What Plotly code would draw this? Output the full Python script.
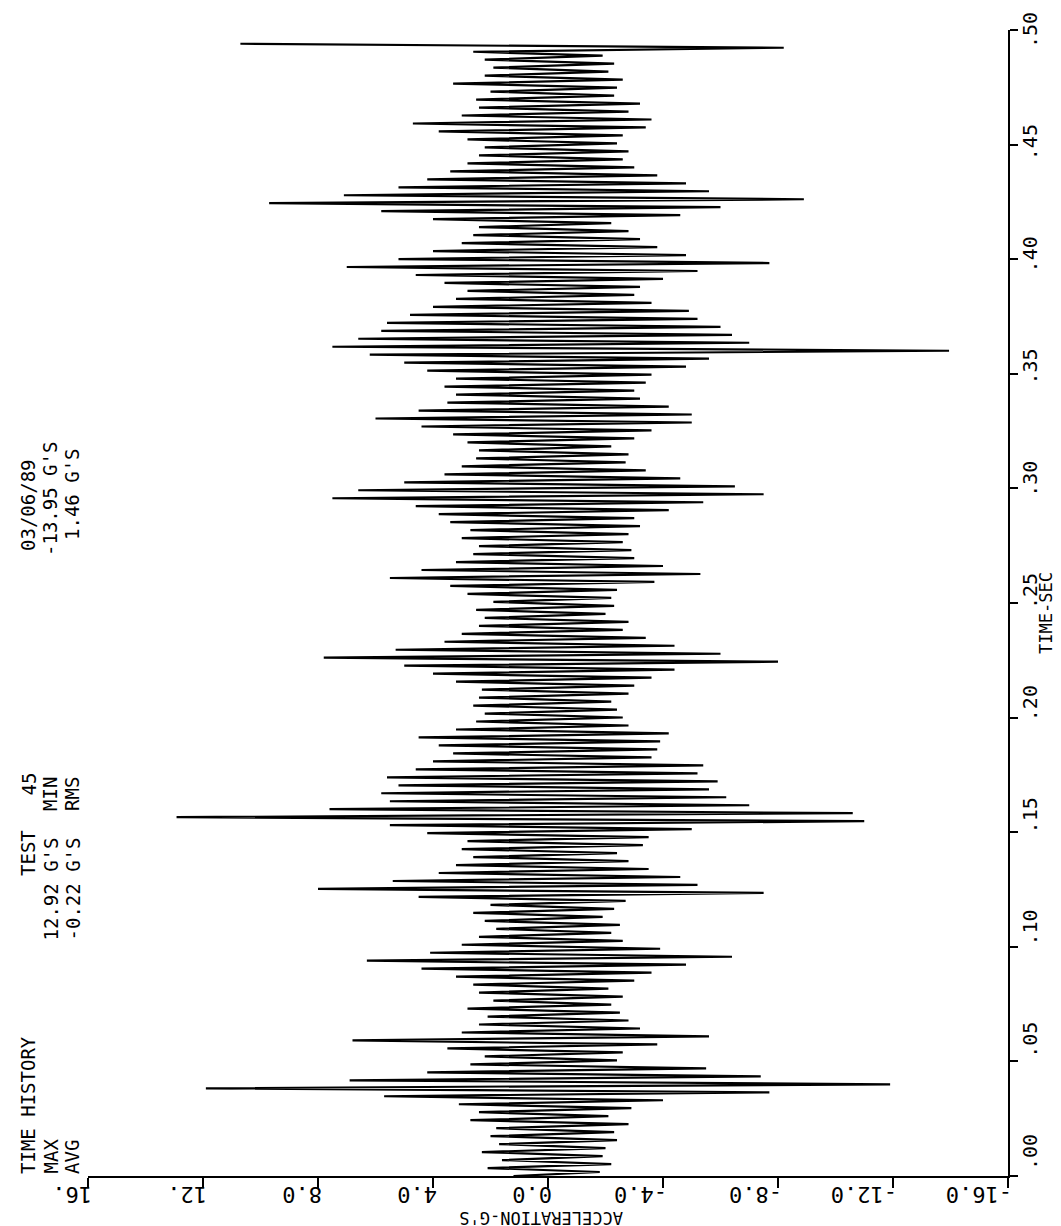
import numpy as np
import plotly.graph_objects as go

# ---------------- data ----------------
acceleration_g = [
    1.2, -1.8, 2.1, -2.2, 1.6, -1.9, 2.3, -2.0, 1.7, -2.4,
    2.0, -2.3, 1.8, -2.8, 2.7, -2.1, 2.4, -2.9, 3.1, -4.0,
    5.7, -7.7, 11.9, -11.9, 6.9, -7.4, 4.2, -5.5, 2.7, -2.4,
    2.2, -2.6, 3.5, -3.8, 6.8, -5.6, 3.0, -3.2, 2.4, -2.8,
    2.1, -2.5, 2.8, -2.2, 1.9, -2.6, 2.4, -2.1, 2.6, -3.0,
    3.2, -3.6, 4.4, -4.8, 6.3, -6.4, 4.1, -3.9, 3.0, -2.6,
    2.4, -2.2, 1.8, -2.5, 2.2, -1.9, 2.6, -2.3, 2.0, -2.7,
    4.5, -7.5, 8.0, -5.2, 5.4, -4.6, 3.8, -3.5, 3.2, -2.8,
    2.6, -2.4, 3.0, -3.3, 2.8, -3.5, 4.2, -5.0, 5.5, -11.0,
    12.92, -10.6, 7.6, -7.0, 5.5, -6.2, 5.8, -5.6, 5.2, -5.9,
    5.6, -5.2, 4.6, -5.4, 4.0, -3.6, 3.3, -3.8, 3.8, -3.9,
    4.5, -4.2, 3.2, -2.8, 2.5, -2.6, 2.2, -2.4, 2.6, -2.2,
    2.4, -2.8, 2.3, -3.0, 3.2, -3.6, 4.0, -4.4, 5.0, -8.0,
    7.8, -6.0, 5.3, -4.4, 3.6, -3.4, 3.0, -2.6, 2.4, -2.8,
    2.2, -2.0, 2.5, -2.3, 1.9, -2.2, 2.8, -2.4, 3.4, -3.7,
    5.5, -5.3, 4.4, -4.0, 3.2, -3.0, 2.6, -2.9, 2.4, -2.6,
    3.0, -2.8, 2.7, -3.2, 3.4, -3.0, 3.8, -4.2, 4.6, -5.4,
    7.5, -7.5, 6.6, -6.5, 5.0, -4.6, 3.6, -3.4, 3.0, -2.7,
    2.5, -2.8, 2.4, -2.2, 2.8, -3.0, 3.3, -3.6, 4.4, -5.0,
    6.0, -5.0, 4.5, -4.2, 3.5, -3.2, 3.2, -3.0, 3.6, -3.4,
    3.2, -3.6, 4.2, -4.8, 5.0, -5.6, 6.2, -13.95, 7.5, -7.0,
    6.6, -6.4, 5.8, -6.0, 5.6, -5.2, 4.8, -4.9, 4.0, -3.6,
    3.2, -3.0, 2.8, -3.2, 3.6, -4.0, 4.6, -5.2, 7.0, -7.7,
    5.2, -4.8, 4.0, -3.8, 3.0, -3.2, 2.6, -2.8, 2.4, -2.2,
    4.0, -4.6, 5.8, -6.0, 9.7, -8.9, 7.1, -5.6, 5.2, -4.8,
    4.2, -3.8, 3.4, -3.0, 2.8, -2.6, 2.4, -2.8, 2.2, -2.4,
    2.8, -2.6, 3.8, -3.4, 4.7, -3.6, 3.0, -2.8, 2.4, -3.2,
    2.5, -2.3, 2.0, -2.4, 3.3, -2.6, 2.2, -2.1, 1.9, -2.3,
    2.2, -1.9, 2.6, -8.2, 10.7,
]
record_start_sec = 0.0
record_end_sec = 0.494

accel_ticks = [16, 12, 8, 4, 0, -4, -8, -12, -16]
accel_tick_labels = ["16.", "12.", "8.0", "4.0", "0.0", "-4.0", "-8.0", "-12.0", "-16.0"]
time_ticks = [0.00, 0.05, 0.10, 0.15, 0.20, 0.25, 0.30, 0.35, 0.40, 0.45, 0.50]
time_tick_labels = [".00", ".05", ".10", ".15", ".20", ".25", ".30", ".35", ".40", ".45", ".50"]

header_line1 = ["TIME HISTORY", "TEST", "45", "03/06/89"]
header_line2 = ["MAX", "12.92 G'S", "MIN", "-13.95 G'S"]
header_line3 = ["AVG", "-0.22 G'S", "RMS", "1.46 G'S"]

# ---------------- figure ----------------
W, H = 1061, 1226
ML, MR, MT, MB = 80, 61, 22, 58
PW, PH = W - ML - MR, H - MT - MB
AX_BOTTOM = H - MB  # pixel row of the acceleration axis


def px_x(x):
    return (x - ML) / PW


def px_y(y):
    return (AX_BOTTOM - y) / PH


time_sec = np.linspace(record_start_sec, record_end_sec, len(acceleration_g))

fig = go.Figure(
    go.Scatter(
        x=acceleration_g,
        y=time_sec,
        mode="lines",
        line=dict(color="black", width=2.2),
        hoverinfo="skip",
    )
)

MONO = "DejaVu Sans Mono"
annotations = []

# acceleration tick labels (upside down)
for v, lab in zip(accel_ticks, accel_tick_labels):
    annotations.append(dict(
        x=v, xref="x", y=px_y(1187), yref="paper", text=lab, showarrow=False,
        textangle=180, xanchor="right", yanchor="middle", xshift=6,
        font=dict(family=MONO, size=22, color="black"),
    ))

# acceleration axis title (upside down)
annotations.append(dict(
    x=px_x(533), xref="paper", y=px_y(1210), yref="paper", text="ACCELERATION-G'S",
    showarrow=False, textangle=180, xanchor="center", yanchor="middle",
    font=dict(family=MONO, size=17, color="black"),
))

# time tick labels (reading bottom to top)
for v, lab in zip(time_ticks, time_tick_labels):
    annotations.append(dict(
        x=1.0, xref="paper", y=v, yref="y", text=lab, showarrow=False,
        textangle=-90, xanchor="left", yanchor="middle", xshift=8,
        yshift=24 - 48 * v,
        font=dict(family=MONO, size=20, color="black"),
    ))

annotations.append(dict(
    x=px_x(1038), xref="paper", y=px_y(605), yref="paper", text="TIME-SEC",
    showarrow=False, textangle=-90, xanchor="center", yanchor="middle",
    font=dict(family=MONO, size=17, color="black"),
))

# header text block (rotated); each entry: (column x, text, pixel row, anchor)
col_x = [20, 42, 64]
header_layout = [
    (col_x[0], header_line1[0], 1168, "bottom"),
    (col_x[0], header_line1[1], 870, "bottom"),
    (col_x[0], header_line1[2], 790, "bottom"),
    (col_x[0], header_line1[3], 545, "bottom"),
    (col_x[1], header_line2[0], 1168, "bottom"),
    (col_x[1], header_line2[1], 935, "bottom"),
    (col_x[1], header_line2[2], 805, "bottom"),
    (col_x[1], header_line2[3], 550, "bottom"),
    (col_x[2], header_line3[0], 1168, "bottom"),
    (col_x[2], header_line3[1], 935, "bottom"),
    (col_x[2], header_line3[2], 805, "bottom"),
    (col_x[2], header_line3[3], 438, "top"),
]
for cx, txt, row, anch in header_layout:
    annotations.append(dict(
        x=px_x(cx), xref="paper", y=px_y(row), yref="paper", text=txt,
        showarrow=False, textangle=-90, xanchor="center", yanchor=anch,
        font=dict(family=MONO, size=19, color="black"),
    ))

fig.update_layout(
    width=W, height=H,
    margin=dict(l=ML, r=MR, t=MT, b=MB, pad=0),
    paper_bgcolor="white", plot_bgcolor="white",
    showlegend=False,
    annotations=annotations,
    xaxis=dict(
        range=[16, -16], tickvals=accel_ticks, showticklabels=False,
        ticks="outside", ticklen=10, tickwidth=2, tickcolor="black",
        showline=True, linecolor="black", linewidth=2,
        showgrid=False, zeroline=False, fixedrange=True,
    ),
    yaxis=dict(
        range=[0, 0.5], side="right", tickvals=time_ticks, showticklabels=False,
        ticks="outside", ticklen=8, tickwidth=2, tickcolor="black",
        showline=True, linecolor="black", linewidth=2,
        showgrid=False, zeroline=False, fixedrange=True,
    ),
)

fig.write_html("out.html")
